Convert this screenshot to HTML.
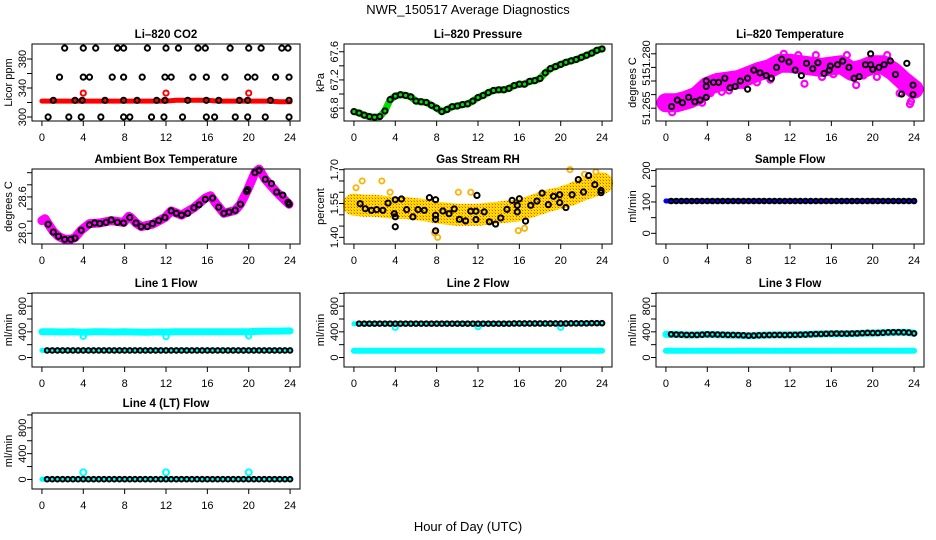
<!DOCTYPE html>
<html><head><meta charset="utf-8"><style>
html,body{margin:0;padding:0;background:#fff;}
svg{display:block;font-family:"Liberation Sans",Arial,sans-serif;}
</style></head><body>
<svg id="chart" width="936" height="540" viewBox="0 0 936 540" xmlns="http://www.w3.org/2000/svg">
<defs>
<pattern id="rhpat" width="3" height="3" patternUnits="userSpaceOnUse">
<rect width="3" height="3" fill="#ffe000"/><rect x="0" y="0" width="1" height="1" fill="#ff4000"/><rect x="2" y="2" width="1" height="1" fill="#ffa000"/>
</pattern>
</defs>
<text x="468" y="14" font-size="13" text-anchor="middle">NWR_150517  Average Diagnostics</text>
<text x="468" y="531" font-size="13" text-anchor="middle">Hour of Day (UTC)</text>
</svg>
<script>
const xTicks=[0,4,8,12,16,20,24];
const hours49=[0,0.5,1,1.5,2,2.5,3,3.5,4,4.5,5,5.5,6,6.5,7,7.5,8,8.5,9,9.5,10,10.5,11,11.5,12,12.5,13,13.5,14,14.5,15,15.5,16,16.5,17,17.5,18,18.5,19,19.5,20,20.5,21,21.5,22,22.5,23,23.5,24];
const hours25=[0,1,2,3,4,5,6,7,8,9,10,11,12,13,14,15,16,17,18,19,20,21,22,23,24];

// CO2
const co2Hours=[2.2,4,5.2,7.3,7.9,10.2,12,13.2,15.1,15.8,18.2,20,21.2,23.2,23.8,1.7,4,4.6,6.8,7.9,9.7,11.9,12.5,14.6,15.9,17.7,19.9,20.6,22.6,23.9,1.1,3.2,3.9,6.1,7.9,9.2,11.1,11.9,14.1,15.9,17.1,19.1,19.9,22.1,23.9,0.6,2.6,3.8,5.7,7.9,8.5,10.6,11.8,13.6,15.9,16.7,18.7,19.9,21.6,23.9];
const co2Vals=[395,395,395,395,395,395,395,395,395,395,395,395,395,395,395,355,355,355,355,355,355,355,355,355,355,355,355,355,355,355,323,323,323,323,323,323,323,323,323,323,323,323,323,323,323,300,300,300,300,300,300,300,300,300,300,300,300,300,300,300];
const co2RedBand=[322,322,322,322,322,322,322,322,322,322,322,322,322,323,323,323,323,322,322,322,322,322,322,321,321];
const co2RedHours=[4,12,20];
const co2RedVals=[333,333,333];

// Pressure
const pressVals=[66.75,66.73,66.70,66.68,66.67,66.68,66.76,66.92,66.97,66.99,66.98,66.96,66.90,66.89,66.88,66.84,66.80,66.75,66.78,66.82,66.83,66.85,66.86,66.90,66.95,66.98,67.02,67.05,67.06,67.06,67.08,67.12,67.14,67.14,67.18,67.19,67.22,67.30,67.36,67.39,67.42,67.45,67.47,67.49,67.52,67.55,67.58,67.62,67.64];

// Li-820 temperature
const tempHours=[0.55,1.1,1.6,2.2,2.8,3.3,3.9,3.9,3.9,4.6,5.1,5.7,6.2,6.7,7.2,7.9,7.9,8.5,9.1,9.7,10.2,10.7,11.2,11.9,12.5,13.1,13.6,14.2,14.7,15.3,15.8,15.9,16.6,17.1,17.7,18.2,18.7,19.3,19.8,19.8,20.0,20.6,21.1,21.7,22.2,22.8,23.3,23.9,23.9];
const tempVals=[51.2656,51.268,51.267,51.269,51.2674,51.268,51.269,51.273,51.275,51.2745,51.2745,51.276,51.2725,51.273,51.275,51.276,51.272,51.279,51.278,51.277,51.276,51.280,51.283,51.282,51.279,51.277,51.2815,51.2795,51.2817,51.2778,51.279,51.2805,51.281,51.2823,51.280,51.276,51.2766,51.281,51.281,51.285,51.2793,51.280,51.281,51.2824,51.2774,51.2702,51.2815,51.2735,51.270];
const tempBand=[51.267,51.267,51.268,51.2695,51.273,51.2745,51.275,51.2755,51.277,51.2785,51.2795,51.2815,51.2815,51.281,51.2805,51.280,51.2805,51.281,51.2785,51.2795,51.281,51.281,51.2785,51.275,51.272];
const tempPinkHours=[0.6,1.4,2.5,3.5,4.3,5.4,6.1,7.5,8.8,10.1,11.4,12.8,13.4,14.5,15.1,16.2,17.5,18.4,19.1,20.4,21.4,22.6,23.6,23.7];
const tempPinkVals=[51.2635,51.2655,51.2665,51.267,51.2705,51.271,51.2715,51.2735,51.2745,51.2755,51.285,51.2845,51.274,51.2845,51.2765,51.2775,51.2845,51.2735,51.277,51.2765,51.2845,51.2705,51.2665,51.2675];

// Ambient box temperature
const ambHours=[0.6,1.1,1.6,2.2,2.8,3.2,3.8,4.6,5.1,5.6,6.2,6.7,7.3,7.9,8.5,9.1,9.6,10.2,10.7,11.3,11.9,12.5,13,13.5,14.1,14.7,15.2,15.8,16.5,17.1,17.6,18.1,18.7,19.2,19.8,19.9,20.6,21,21.6,22.2,22.7,23.3,23.8,23.9];
const ambVals=[28.15,28.02,27.95,27.90,27.90,27.92,28.05,28.14,28.17,28.16,28.18,28.22,28.18,28.17,28.26,28.17,28.11,28.11,28.16,28.21,28.26,28.37,28.33,28.30,28.33,28.42,28.47,28.56,28.58,28.43,28.33,28.35,28.38,28.48,28.69,28.72,29.00,29.04,28.89,28.82,28.68,28.63,28.51,28.48];
const ambBandHours=[0,0.3,0.6,1.1,1.6,2.2,2.8,3.2,3.8,4.6,5.6,6.7,7.9,8.4,8.6,9.1,9.6,10.7,11.9,12.5,13.5,14.7,15.8,16.3,16.8,17.6,18.7,19.2,19.9,20.6,21,21.6,22.7,23.9];
const ambBandVals=[28.21,28.24,28.16,28.03,27.95,27.90,27.90,27.93,28.05,28.16,28.17,28.21,28.18,28.28,28.26,28.17,28.11,28.15,28.26,28.37,28.30,28.42,28.58,28.62,28.50,28.33,28.38,28.48,28.72,29.00,29.06,28.89,28.68,28.48];

// Gas stream RH
const rhHours=[0.6,1.1,1.7,2.2,2.8,3.3,3.9,4.0,4.0,4.0,4.6,5.1,5.7,6.2,6.8,7.3,7.9,7.9,7.9,7.9,8.6,9.2,9.7,10.2,10.8,11.3,11.8,11.9,11.8,12.6,13.1,13.7,14.2,14.8,15.3,15.8,15.8,16.0,16.6,17.1,17.7,18.2,18.8,19.3,19.9,19.9,20.5,21.1,21.7,22.2,22.7,23.3,23.9,23.9];
const rhVals=[1.549,1.527,1.520,1.523,1.520,1.552,1.505,1.491,1.447,1.567,1.570,1.523,1.491,1.523,1.520,1.576,1.567,1.498,1.480,1.429,1.517,1.505,1.526,1.480,1.473,1.516,1.516,1.586,1.479,1.513,1.469,1.459,1.486,1.524,1.564,1.542,1.513,1.571,1.472,1.542,1.561,1.596,1.545,1.582,1.589,1.554,1.532,1.589,1.656,1.601,1.674,1.634,1.608,1.598];
const rhBand=[1.545,1.54,1.54,1.535,1.53,1.53,1.525,1.52,1.51,1.505,1.50,1.50,1.50,1.505,1.51,1.515,1.52,1.535,1.55,1.565,1.575,1.59,1.61,1.625,1.64];
const rhYellowHours=[0.2,0.8,2.7,3.5,7.8,8.1,10.1,11.3,15.9,16.5,20.9,22.3,23.4];
const rhYellowVals=[1.62,1.65,1.65,1.60,1.42,1.40,1.60,1.60,1.43,1.44,1.70,1.68,1.69];

// Sample flow
const sampleBand=[103,103,103,103,103,103,103,103,103,103,103,103,103,103,103,103,103,103,103,103,104,103,103,103,103];
const sampleBlack=[103,103,103,103,103,103,103,103,103,103,103,103,103,103,103,103,103,103,103,103,103,103,103,103,103,103,103,103,103,103,103,103,103,103,103,103,103,103,103,103,103,103,103,103,103,103,103,103,103];

// Line 1 flow
const line1CyanHigh=[400,400,398,400,395,402,400,398,400,398,395,398,397,400,400,400,400,402,400,402,400,410,412,412,415];
const line1CyanLow=[110,110,110,110,110,110,110,110,110,110,110,110,110,110,110,110,110,110,110,110,110,110,110,110,110];
const line1Black=[110,110,110,110,110,110,110,110,110,110,110,110,110,110,110,110,110,110,110,110,110,110,110,110,110,110,110,110,110,110,110,110,110,110,110,110,110,110,110,110,110,110,110,110,110,110,110,110,110];
const line1DipHours=[4,12,20];
const line1DipVals=[330,325,335];

// Line 2 flow
const line2CyanHigh=[525,525,528,528,528,528,528,528,528,528,528,528,528,528,528,530,530,530,530,530,530,530,532,532,532];
const line2CyanLow=[105,105,105,105,105,105,105,105,105,105,105,105,105,105,105,105,105,105,105,105,105,105,105,105,105];
const line2Black=[525,528,528,528,528,528,528,528,528,528,528,528,528,528,528,528,528,528,528,528,528,528,528,528,528,528,528,528,528,528,528,530,530,530,530,530,530,530,530,530,530,530,532,532,532,532,535,535,535];
const line2DipHours=[4,12,20];
const line2DipVals=[470,480,470];

// Line 3 flow
const line3CyanLow=[105,105,105,105,105,105,105,105,105,105,105,105,105,105,105,105,105,105,105,105,105,105,105,105,105];
const line3CyanHigh=[360,360,350,352,360,355,350,348,340,348,350,352,352,355,362,368,370,370,372,378,380,385,390,392,380];
const line3Black=[362,362,358,356,352,352,352,356,362,360,358,356,352,352,350,346,340,342,346,348,350,352,352,350,352,354,356,358,362,366,366,370,372,374,372,372,374,376,380,384,382,382,386,392,394,394,392,388,375];

// Line 4 flow
const line4Cyan=[2,2,2,2,2,2,2,2,2,2,2,2,2,2,2,2,2,2,2,2,2,2,2,2,2];
const line4Black=[4,4,4,4,4,4,4,4,4,4,4,4,4,4,4,4,4,4,4,4,4,4,4,4,4,4,4,4,4,4,4,4,4,4,4,4,4,4,4,4,4,4,4,4,4,4,4,4,4];
const line4OutHours=[4,12,20];
const line4OutVals=[110,110,110];

const NS="http://www.w3.org/2000/svg";
const svg=document.getElementById('chart');
const rows=[[44,121],[169,244],[293,367],[413,489]];
function el(tag,attrs,parent){const e=document.createElementNS(NS,tag);for(const k in attrs)e.setAttribute(k,attrs[k]);parent.appendChild(e);return e;}

function makePanel(name,title,ylab,col,row,ylim,ticks,labelVals,labelTexts){
  const L=32+312*col,R=300+312*col,T=rows[row][0],B=rows[row][1];
  const g=el('g',{},svg);
  
  
  const x=h=>L+(h+0.96)/25.92*(R-L);
  const y=v=>B-(v-ylim[0])/(ylim[1]-ylim[0])*(B-T);
  const t=el('text',{x:(L+R)/2,y:T-6,'font-size':11.5,'font-weight':'bold','text-anchor':'middle'},g);
  t.textContent=title;
  
  
  const data=el('g',{},g);
  
  
  xTicks.forEach(h=>{
    el('line',{x1:x(h),x2:x(h),y1:B,y2:B+5,stroke:'#000'},g);
    const tl=el('text',{x:x(h),y:B+20,'font-size':11,'text-anchor':'middle'},g);
    tl.textContent=h;
    
    
  });
  ticks.forEach(v=>{el('line',{x1:L-5,x2:L,y1:y(v),y2:y(v),stroke:'#000'},g);});
  labelVals.forEach((v,i)=>{
    const yl=el('text',{x:L-6,y:y(v),'font-size':11,'text-anchor':'middle',transform:`rotate(-90 ${L-6} ${y(v)})`},g);
    yl.textContent=labelTexts[i];
    
    
  });
  const yt=el('text',{x:L-20,y:(T+B)/2,'font-size':11,'text-anchor':'middle',transform:`rotate(-90 ${L-20} ${(T+B)/2})`},g);
  yt.textContent=ylab;
  
  
  const box=el('rect',{x:L,y:T,width:R-L,height:B-T,fill:'none',stroke:'#000','stroke-width':1},g);
  
  
  return {x,y,g:data};
}
function band(p,hrs,vals,color,w,name){
  const pts=hrs.map((h,i)=>p.x(h).toFixed(1)+','+p.y(vals[i]).toFixed(1)).join(' ');
  const pl=el('polyline',{points:pts,fill:'none',stroke:color,'stroke-width':w,'stroke-linecap':'round','stroke-linejoin':'round'},p.g);
  
  
}
function points(p,hrs,vals,color,name,r,sw){
  hrs.forEach((h,i)=>{
    const c=el('circle',{cx:p.x(h),cy:p.y(vals[i]),r:r||2.6,fill:'none',stroke:color,'stroke-width':sw||2},p.g);
    
    
  });
}

let p=makePanel('co2-panel','Li\u2013820 CO2','Licor ppm',0,0,[294.5,400.7],[300,320,340,360,380],[300,340,380],['300','340','380']);
band(p,hours25,co2RedBand,'#ff0000',5,'co2-red-band');
points(p,co2RedHours,co2RedVals,'#ff0000','co2-red-point');
points(p,co2Hours,co2Vals,'#000','co2-point');

p=makePanel('pressure-panel','Li\u2013820 Pressure','kPa',1,0,[66.617,67.71],[66.8,67.0,67.2,67.4,67.6],[66.8,67.2,67.6],['66.8','67.2','67.6']);
band(p,hours49,pressVals,'#00e000',7,'pressure-band');
points(p,hours49,pressVals,'#000','pressure-point');

p=makePanel('li820-temp-panel','Li\u2013820 Temperature','degrees C',2,0,[51.2603,51.2886],[51.265,51.27,51.275,51.28,51.285],[51.265,51.2755,51.2838],['51.265','51','51.280']);
band(p,hours25,tempBand,'#ff00ff',19,'temp-band');
points(p,tempPinkHours,tempPinkVals,'#ff00ff','temp-pink-point',3,2.2);
points(p,tempHours,tempVals,'#000','temp-point');

p=makePanel('ambient-temp-panel','Ambient Box Temperature','degrees C',0,1,[27.823,29.061],[28.0,28.2,28.4,28.6,28.8,29.0],[28.0,28.6],['28.0','28.6']);
band(p,ambBandHours,ambBandVals,'#ff00ff',9,'ambient-band');
points(p,ambHours,ambVals,'#000','ambient-point');

p=makePanel('rh-panel','Gas Stream RH','percent',1,1,[1.3706,1.703],[1.40,1.45,1.50,1.55,1.60,1.65,1.70],[1.40,1.55,1.70],['1.40','1.55','1.70']);
band(p,hours25,rhBand,'url(#rhpat)',22,'rh-band');
points(p,rhYellowHours,rhYellowVals,'#ffb000','rh-outlier-point',2.6,1.8);
points(p,rhHours,rhVals,'#000','rh-point');

p=makePanel('sample-flow-panel','Sample Flow','ml/min',2,1,[-34,205],[0,50,100,150,200],[0,100,200],['0','100','200']);
band(p,hours25,sampleBand,'#0000ff',5,'sample-band');
points(p,hours49.slice(1),sampleBlack.slice(1),'#000','sample-point',2.3);

const flowTicks=[0,200,400,600,800,1000],flowLab=[0,400,800],flowTxt=['0','400','800'];
p=makePanel('line1-flow-panel','Line 1 Flow','ml/min',0,2,[-148,1005],flowTicks,flowLab,flowTxt);
band(p,hours25,line1CyanHigh,'#00ffff',7,'line1-cyan-high');
band(p,hours25,line1CyanLow,'#00ffff',5,'line1-cyan-low');
points(p,line1DipHours,line1DipVals,'#00ffff','line1-dip-point');
points(p,hours49.slice(1),line1Black.slice(1),'#000','line1-point',2.3);

p=makePanel('line2-flow-panel','Line 2 Flow','ml/min',1,2,[-148,1005],flowTicks,flowLab,flowTxt);
band(p,hours25,line2CyanHigh,'#00ffff',5,'line2-cyan-high');
band(p,hours25,line2CyanLow,'#00ffff',6,'line2-cyan-low');
points(p,line2DipHours,line2DipVals,'#00ffff','line2-dip-point');
points(p,hours49.slice(1),line2Black.slice(1),'#000','line2-point',2.3);

p=makePanel('line3-flow-panel','Line 3 Flow','ml/min',2,2,[-148,1005],flowTicks,flowLab,flowTxt);
band(p,hours25,line3CyanHigh,'#00ffff',7,'line3-cyan-high');
band(p,hours25,line3CyanLow,'#00ffff',6,'line3-cyan-low');
points(p,hours49.slice(1),line3Black.slice(1),'#000','line3-point',2.3);

p=makePanel('line4-flow-panel','Line 4 (LT) Flow','ml/min',0,3,[-148,1030],flowTicks,flowLab,flowTxt);
band(p,hours25,line4Cyan,'#00ffff',5,'line4-cyan');
points(p,line4OutHours,line4OutVals,'#00ffff','line4-outlier-point',3);
points(p,hours49.slice(1),line4Black.slice(1),'#000','line4-point',2.3);
</script>
</body></html>
